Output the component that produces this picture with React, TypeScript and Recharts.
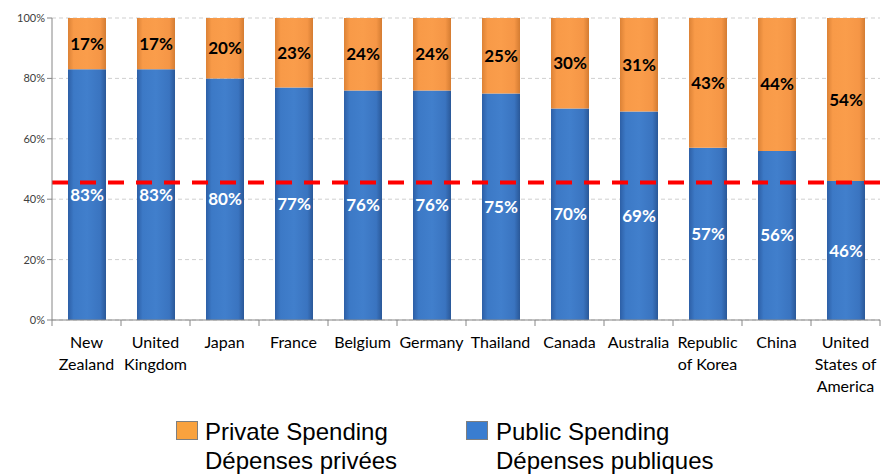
import React from 'react';
import { BarChart, Bar, XAxis, YAxis, CartesianGrid, ReferenceLine, LabelList, Legend } from 'recharts';

const categories = [
  'New\nZealand', 'United\nKingdom', 'Japan', 'France', 'Belgium', 'Germany',
  'Thailand', 'Canada', 'Australia', 'Republic\nof Korea', 'China', 'United\nStates of\nAmerica',
];
const publicSpending = [83, 83, 80, 77, 76, 76, 75, 70, 69, 57, 56, 46];
const privateSpending = [17, 17, 20, 23, 24, 24, 25, 30, 31, 43, 44, 54];
const yTicks = [0, 20, 40, 60, 80, 100];
const threshold = 45.5;

const data = categories.map((c, i) => ({ name: c, pub: publicSpending[i], priv: privateSpending[i] }));

const FONT = 'Lato, "Open Sans", sans-serif';

const XTick = (props: any) => {
  const { x, y, payload, index } = props;
  const half = payload && payload.offset ? payload.offset : 34.5;
  const lines = String(payload.value).split('\n');
  const axisY = y - 8;
  return (
    <g>
      <line x1={x - half} x2={x - half} y1={axisY} y2={axisY + 6} stroke="#868686" strokeWidth={1} />
      {index === categories.length - 1 && (
        <line x1={x + half} x2={x + half} y1={axisY} y2={axisY + 6} stroke="#868686" strokeWidth={1} />
      )}
      <text x={x} y={axisY + 28} textAnchor="middle" fontFamily={FONT} fontSize={16} fill="#000">
        {lines.map((l, i) => (
          <tspan key={i} x={x} dy={i === 0 ? 0 : 22}>{l}</tspan>
        ))}
      </text>
    </g>
  );
};

const LegendContent = () => (
  <div style={{ position: 'relative', width: 882, height: 74, fontFamily: '"Liberation Sans", Arial, sans-serif', fontSize: 24, lineHeight: '29px', color: '#000' }}>
    <div style={{ position: 'absolute', left: 176, top: 21, width: 20, height: 17, background: '#f9a23e', border: '1px solid #7f7f7f' }} />
    <div style={{ position: 'absolute', left: 205, top: 17, whiteSpace: 'nowrap', textAlign: 'left' }}>
      <div>Private Spending</div>
      <div>Dépenses privées</div>
    </div>
    <div style={{ position: 'absolute', left: 466, top: 21, width: 20, height: 17, background: '#3a7dd0', border: '1px solid #7f7f7f' }} />
    <div style={{ position: 'absolute', left: 496, top: 17, whiteSpace: 'nowrap', textAlign: 'left' }}>
      <div>Public Spending</div>
      <div>Dépenses publiques</div>
    </div>
  </div>
);

export default function App() {
  return (
    <div style={{ position: 'absolute', left: 0, top: 0, width: 882, height: 474, background: '#fff' }}>
      <BarChart width={882} height={474} data={data} margin={{ top: 18, right: 2, left: 0, bottom: 0 }}>
        <defs>
          <linearGradient id="gBlue" x1="0" y1="0" x2="1" y2="0">
            <stop offset="0%" stopColor="#2d5fa6" />
            <stop offset="15%" stopColor="#3c79c6" />
            <stop offset="50%" stopColor="#417fcc" />
            <stop offset="85%" stopColor="#3a74c0" />
            <stop offset="100%" stopColor="#2a5898" />
          </linearGradient>
          <linearGradient id="gOrange" x1="0" y1="0" x2="1" y2="0">
            <stop offset="0%" stopColor="#dc8236" />
            <stop offset="15%" stopColor="#f89a48" />
            <stop offset="50%" stopColor="#fa9d4b" />
            <stop offset="85%" stopColor="#f59646" />
            <stop offset="100%" stopColor="#d47c32" />
          </linearGradient>
        </defs>
        <CartesianGrid vertical={false} stroke="#cfcfcf" strokeDasharray="4 3" />
        <XAxis
          dataKey="name"
          interval={0}
          height={80}
          tickLine={false}
          axisLine={{ stroke: '#868686' }}
          tick={<XTick />}
        />
        <YAxis
          width={52}
          domain={[0, 100]}
          ticks={yTicks}
          tickFormatter={(v: number) => `${v}%`}
          axisLine={{ stroke: '#868686' }}
          tickLine={{ stroke: '#868686' }}
          tickSize={5}
          tick={{ fontFamily: FONT, fontSize: 11, fill: '#404040' }}
        />
        <Legend verticalAlign="bottom" height={74} content={<LegendContent />} />
        <Bar dataKey="pub" stackId="a" fill="url(#gBlue)" barSize={38} isAnimationActive={false}>
          <LabelList dataKey="pub" position="center" formatter={(v: any) => `${v}%`} fill="#ffffff" style={{ fontFamily: FONT, fontSize: 17, fontWeight: 700 }} />
        </Bar>
        <Bar dataKey="priv" stackId="a" fill="url(#gOrange)" barSize={38} isAnimationActive={false}>
          <LabelList dataKey="priv" position="center" formatter={(v: any) => `${v}%`} fill="#000000" style={{ fontFamily: FONT, fontSize: 17, fontWeight: 700 }} />
        </Bar>
        <ReferenceLine y={threshold} stroke="#ff0000" strokeWidth={4} strokeDasharray="16 12" />
      </BarChart>
    </div>
  );
}
